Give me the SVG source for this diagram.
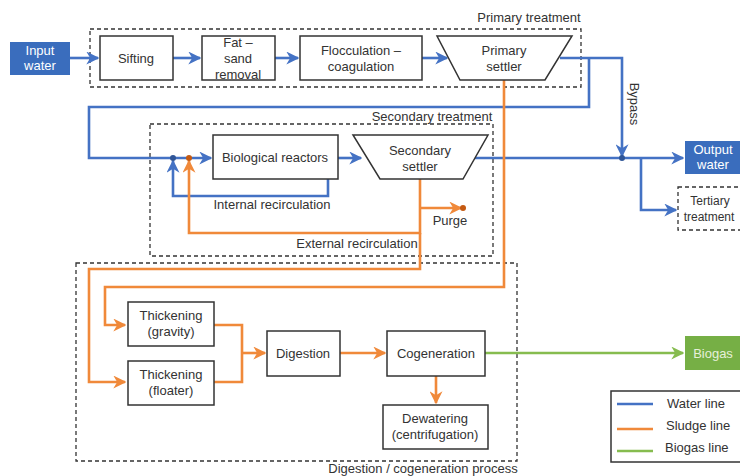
<svg xmlns="http://www.w3.org/2000/svg" width="740" height="476" viewBox="0 0 740 476">
<style>
text{font-family:"Liberation Sans",Arial,sans-serif;font-size:13px;fill:#333;text-anchor:middle}
.box{fill:#fff;stroke:#333;stroke-width:1.5}
.grp{fill:none;stroke:#333;stroke-width:1.3;stroke-dasharray:4 3}
.w{fill:none;stroke:#4472C4;stroke-width:2.6}
.s{fill:none;stroke:#F0893A;stroke-width:2.6}
.g{fill:none;stroke:#86BC4F;stroke-width:2.6}
.wt{fill:#fff}
.lbl{font-size:13px}
</style>
<defs>
<marker id="aw" viewBox="0 0 10 10" refX="9" refY="5" markerWidth="5" markerHeight="5" orient="auto" markerUnits="strokeWidth"><path d="M0,0 L10,5 L0,10 L3,5 z" fill="#4472C4"/></marker>
<marker id="as" viewBox="0 0 10 10" refX="9" refY="5" markerWidth="5" markerHeight="5" orient="auto" markerUnits="strokeWidth"><path d="M0,0 L10,5 L0,10 L3,5 z" fill="#F0893A"/></marker>
<marker id="ag" viewBox="0 0 10 10" refX="9" refY="5" markerWidth="5" markerHeight="5" orient="auto" markerUnits="strokeWidth"><path d="M0,0 L10,5 L0,10 L3,5 z" fill="#86BC4F"/></marker>
</defs>
<rect width="740" height="476" fill="#fff"/>

<g id="groups">
<rect class="grp" x="90" y="29" width="491" height="58"/>
<text class="lbl" x="529" y="22">Primary treatment</text>
<rect class="grp" x="150" y="124" width="343" height="132"/>
<text class="lbl" x="432" y="121">Secondary treatment</text>
<rect class="grp" x="76" y="263" width="441" height="198"/>
<text class="lbl" x="423" y="473">Digestion / cogeneration process</text>
</g>

<g id="connectors">
<path class="w" d="M70,58 H98" marker-end="url(#aw)"/>
<path class="w" d="M173,58 H200" marker-end="url(#aw)"/>
<path class="w" d="M275,58 H298" marker-end="url(#aw)"/>
<path class="w" d="M422,58 H447" marker-end="url(#aw)"/>
<path class="w" d="M560,58 H622 V156" marker-end="url(#aw)"/>
<path class="w" d="M589,58 V107 H89 V158 H211" marker-end="url(#aw)"/>
<path class="w" d="M338,158 H361" marker-end="url(#aw)"/>
<path class="w" d="M328,170 V196 H173 V161" marker-end="url(#aw)"/>
<path class="w" d="M475,158 H683" marker-end="url(#aw)"/>
<path class="w" d="M641,158 V210 H676" marker-end="url(#aw)"/>
<circle cx="173" cy="158" r="3" fill="#2F5597"/>
<circle cx="328" cy="170" r="3" fill="#2F5597"/>
<circle cx="622" cy="158" r="3" fill="#2F5597"/>
<text x="630" y="104" transform="rotate(90 630 104)" class="lbl">Bypass</text>
<text x="272" y="209">Internal recirculation</text>

<path class="s" d="M420,179 V233 H189 V161" marker-end="url(#as)"/>
<path class="s" d="M420,208 H461" marker-end="url(#as)"/>
<circle cx="189" cy="158" r="3" fill="#C55A11"/>
<circle cx="463" cy="208" r="3" fill="#C55A11"/>
<text x="450" y="225">Purge</text>
<text x="357" y="248">External recirculation</text>
<path class="s" d="M420,233 V269 H89 V382 H125" marker-end="url(#as)"/>
<path class="s" d="M504,80 V287 H105 V325 H125" marker-end="url(#as)"/>
<path class="s" d="M214,325 H242 V382 H214"/>
<path class="s" d="M242,353 H265" marker-end="url(#as)"/>
<path class="s" d="M340,353 H385" marker-end="url(#as)"/>
<path class="s" d="M436,376 V403" marker-end="url(#as)"/>
<path class="g" d="M485,353 H683" marker-end="url(#ag)"/>
</g>

<g id="input-water">
<rect x="10" y="42" width="60" height="33" fill="#3A6DBD"/>
<text class="wt" x="40" y="55">Input</text>
<text class="wt" x="40" y="70">water</text>
</g>
<g id="sifting">
<rect class="box" x="100" y="36" width="73" height="44"/>
<text x="136" y="63">Sifting</text>
</g>
<g id="fat-sand">
<rect class="box" x="202" y="36" width="73" height="44"/>
<text x="238" y="47">Fat –</text>
<text x="238" y="63">sand</text>
<text x="238" y="79">removal</text>
</g>
<g id="flocculation">
<rect class="box" x="300" y="36" width="122" height="44"/>
<text x="361" y="55">Flocculation –</text>
<text x="361" y="71">coagulation</text>
</g>
<g id="primary-settler">
<path class="box" d="M437,36 H572 L545,80 H460 Z"/>
<text x="504" y="55">Primary</text>
<text x="504" y="71">settler</text>
</g>
<g id="biological-reactors">
<rect class="box" x="213" y="135" width="125" height="44"/>
<text x="275" y="162">Biological reactors</text>
</g>
<g id="secondary-settler">
<path class="box" d="M353,135 H488 L463,179 H380 Z"/>
<text x="420" y="155">Secondary</text>
<text x="420" y="171">settler</text>
</g>
<g id="output-water">
<rect x="685" y="141" width="60" height="33" fill="#3A6DBD"/>
<text class="wt" x="713" y="154">Output</text>
<text class="wt" x="713" y="169">water</text>
</g>
<g id="tertiary">
<rect class="grp" x="678" y="187" width="70" height="43"/>
<text x="710" y="205" style="font-size:12px">Tertiary</text>
<text x="709" y="221" style="font-size:12px">treatment</text>
</g>
<g id="thickening-gravity">
<rect class="box" x="128" y="302" width="86" height="44"/>
<text x="171" y="320">Thickening</text>
<text x="171" y="336">(gravity)</text>
</g>
<g id="thickening-floater">
<rect class="box" x="128" y="361" width="86" height="44"/>
<text x="171" y="379">Thickening</text>
<text x="171" y="395">(floater)</text>
</g>
<g id="digestion">
<rect class="box" x="267" y="331" width="73" height="45"/>
<text x="303" y="358">Digestion</text>
</g>
<g id="cogeneration">
<rect class="box" x="387" y="331" width="98" height="45"/>
<text x="436" y="358">Cogeneration</text>
</g>
<g id="dewatering">
<rect class="box" x="383" y="405" width="105" height="44"/>
<text x="435" y="423">Dewatering</text>
<text x="435" y="439">(centrifugation)</text>
</g>
<g id="biogas">
<rect x="685" y="336" width="60" height="34" fill="#76AF45"/>
<text x="713" y="358" style="fill:#e6efd9">Biogas</text>
</g>
<g id="legend">
<rect class="box" x="611" y="391" width="135" height="71"/>
<line class="w" x1="617" y1="404" x2="653" y2="404"/>
<line class="s" x1="617" y1="429" x2="653" y2="429"/>
<line class="g" x1="617" y1="451" x2="653" y2="451"/>
<text x="667" y="408" style="text-anchor:start">Water line</text>
<text x="666" y="430" style="text-anchor:start">Sludge line</text>
<text x="665" y="452" style="text-anchor:start">Biogas line</text>
</g>
</svg>
